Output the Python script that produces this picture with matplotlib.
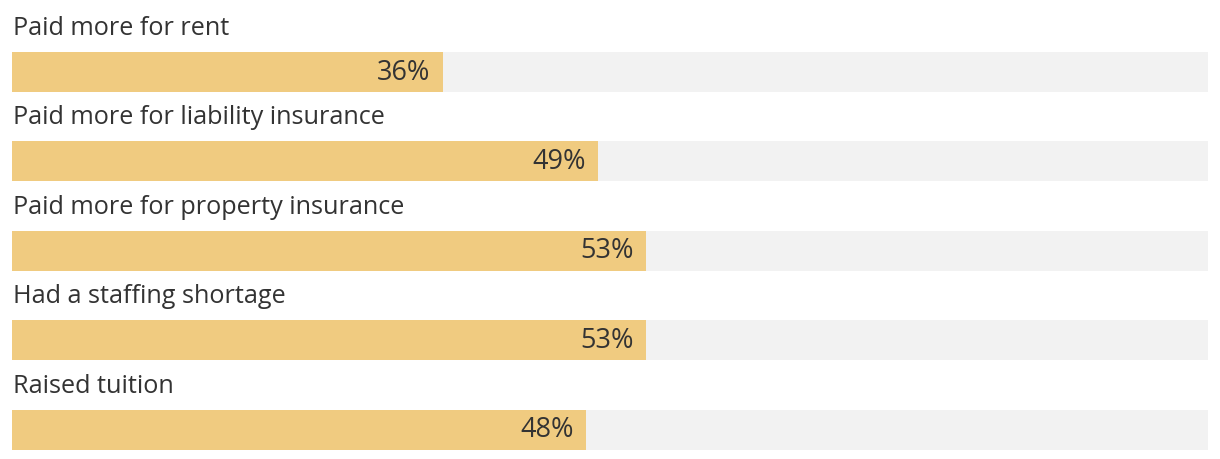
import matplotlib
matplotlib.use("Agg")
import matplotlib.pyplot as plt

categories = ["Paid more for rent", "Paid more for liability insurance",
              "Paid more for property insurance", "Had a staffing shortage",
              "Raised tuition"]
values = [36, 49, 53, 53, 48]
value_labels = ["36%", "49%", "53%", "53%", "48%"]

W, H = 1220, 460
fig = plt.figure(figsize=(W / 100, H / 100), dpi=100)
ax = fig.add_axes([12 / W, 0, 1196 / W, 1])
ax.set_xlim(0, 100)
ax.set_ylim(H, 0)
ax.axis("off")

gold = "#f0cb80"
gray = "#f2f2f2"
txt = "#333333"
font = "Open Sans"

first_center = 72.5
step = 89.5
bar_h = 40
for i, (cat, v, lab) in enumerate(zip(categories, values, value_labels)):
    yc = first_center + step * i
    ax.barh(yc, 100, height=bar_h, color=gray, left=0)
    ax.barh(yc, v, height=bar_h, color=gold, left=0)
    ax.text(0.05, yc - 44, cat, ha="left", va="center", fontsize=18.2,
            color=txt, family=font)
    ax.annotate(lab, xy=(v, yc), xytext=(-12, 0), textcoords="offset pixels",
                ha="right", va="center", fontsize=19.5, color=txt, family=font)

fig.savefig("out.png", dpi=100)
